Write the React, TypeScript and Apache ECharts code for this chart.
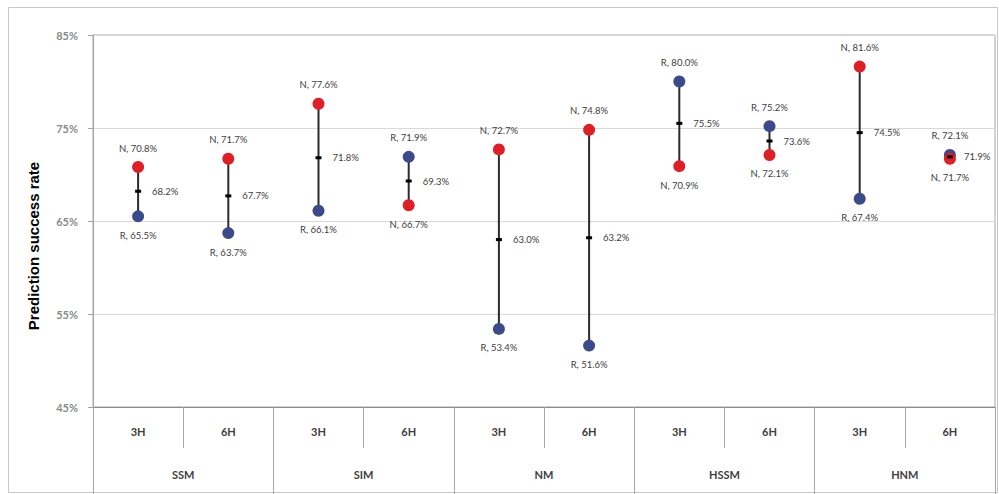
import React, { useEffect, useRef } from "react";
import * as echarts from "echarts";

const categories = ["3H", "6H", "3H", "6H", "3H", "6H", "3H", "6H", "3H", "6H"];
const groups = ["SSM", "SIM", "NM", "HSSM", "HNM"];
const nValues = [70.8, 71.7, 77.6, 66.7, 72.7, 74.8, 70.9, 72.1, 81.6, 71.7];
const rValues = [65.5, 63.7, 66.1, 71.9, 53.4, 51.6, 80.0, 75.2, 67.4, 72.1];
const midValues = [68.2, 67.7, 71.8, 69.3, 63.0, 63.2, 75.5, 73.6, 74.5, 71.9];
const yTicks = [45, 55, 65, 75, 85];
const yAxisName = "Prediction success rate";

const RED = "#e01e26";
const BLUE = "#3b4a8a";
const LABEL_FONT = "Lato, 'Open Sans', sans-serif";

export default function App() {
  const ref = useRef<HTMLDivElement>(null);
  useEffect(() => {
    if (!ref.current) return;
    const chart = echarts.init(ref.current, undefined, { renderer: "svg" });

    const pointLabel = {
      show: true,
      fontSize: 9.5,
      color: "#404040",
      fontFamily: LABEL_FONT,
      distance: 8,
    };

    const makePoints = (vals: number[], other: number[]) =>
      vals.map((v, i) => ({
        value: [i, v],
        label: { position: v >= other[i] ? "top" : "bottom" },
      }));

    const option: any = {
      animation: false,
      grid: { left: 93, right: 4, top: 35, bottom: 87, show: true, borderColor: "#a6a6a6", borderWidth: 1 },
      xAxis: [
        {
          type: "category",
          data: categories,
          position: "bottom",
          boundaryGap: true,
          axisLine: { show: true, lineStyle: { color: "#8c8c8c", width: 1 } },
          axisTick: { show: true, length: 41, interval: 0, lineStyle: { color: "#a6a6a6" } },
          axisLabel: { interval: 0, margin: 19, fontSize: 11, fontWeight: "bold", color: "#404040", fontFamily: LABEL_FONT },
          splitLine: { show: false },
        },
        {
          type: "category",
          data: groups,
          position: "bottom",
          boundaryGap: true,
          axisLine: { show: false },
          axisTick: { show: true, length: 87, interval: 0, lineStyle: { color: "#a6a6a6" } },
          axisLabel: { interval: 0, margin: 62, fontSize: 11, fontWeight: "bold", color: "#404040", fontFamily: LABEL_FONT },
          splitLine: { show: false },
        },
      ],
      yAxis: {
        type: "value",
        min: 45,
        max: 85,
        axisLine: { show: true, lineStyle: { color: "#a6a6a6" } },
        axisTick: { show: true, length: 5, customValues: yTicks, lineStyle: { color: "#a6a6a6" } },
        axisLabel: {
          customValues: yTicks,
          formatter: (v: number) => `${v}%`,
          fontSize: 11,
          fontWeight: "bold",
          color: "#8a8a8a",
          margin: 15,
          fontFamily: LABEL_FONT,
        },
        splitLine: { show: true, lineStyle: { color: "#d9d9d9", width: 1 } },
      },
      graphic: [
        {
          type: "rect",
          shape: { x: 8.5, y: 7.5, width: 989, height: 485 },
          style: { fill: "none", stroke: "#c8c8c8", lineWidth: 1 },
          silent: true,
        },
        {
          type: "text",
          x: 33,
          y: 246,
          rotation: Math.PI / 2,
          style: {
            text: yAxisName,
            fontSize: 15,
            fontWeight: "bold",
            fontFamily: "'Liberation Sans', Arial, sans-serif",
            fill: "#000",
            align: "center",
            verticalAlign: "middle",
          },
        },
      ],
      series: [
        {
          type: "custom",
          xAxisIndex: 0,
          renderItem: (params: any, api: any) => {
            const i = api.value(0);
            const p1 = api.coord([i, api.value(1)]);
            const p2 = api.coord([i, api.value(2)]);
            return {
              type: "line",
              shape: { x1: p1[0], y1: p1[1], x2: p2[0], y2: p2[1] },
              style: { stroke: "#2b2b2b", lineWidth: 2 },
            };
          },
          encode: { x: 0, y: [1, 2] },
          data: nValues.map((n, i) => [i, n, rValues[i]]),
          z: 2,
        },
        {
          type: "scatter",
          name: "R",
          xAxisIndex: 0,
          symbol: "circle",
          symbolSize: 12,
          itemStyle: { color: BLUE, opacity: 1 },
          label: { ...pointLabel, formatter: (p: any) => `R, ${p.value[1].toFixed(1)}%` },
          data: makePoints(rValues, nValues),
          z: 3,
        },
        {
          type: "scatter",
          name: "N",
          xAxisIndex: 0,
          symbol: "circle",
          symbolSize: 12,
          itemStyle: { color: RED, opacity: 1 },
          label: { ...pointLabel, formatter: (p: any) => `N, ${p.value[1].toFixed(1)}%` },
          data: makePoints(nValues, rValues),
          z: 4,
        },
        {
          type: "scatter",
          name: "Mid",
          xAxisIndex: 0,
          symbol: "rect",
          symbolSize: [6, 3],
          itemStyle: { color: "#000", opacity: 1 },
          label: {
            show: true,
            position: "right",
            distance: 11,
            fontSize: 9.5,
            color: "#404040",
            fontFamily: LABEL_FONT,
            formatter: (p: any) => `${p.value[1].toFixed(1)}%`,
          },
          data: midValues.map((v, i) => [i, v]),
          z: 5,
        },
      ],
    };
    chart.setOption(option);
    return () => chart.dispose();
  }, []);
  return (
    <div
      ref={ref}
      style={{ position: "fixed", left: 0, top: 0, width: 999, height: 494, background: "#fff" }}
    />
  );
}
